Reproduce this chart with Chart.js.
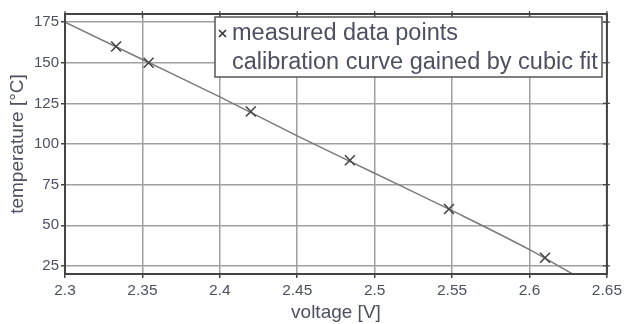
<!DOCTYPE html>
<html>
<head>
<meta charset="utf-8">
<script src="https://cdn.jsdelivr.net/npm/chart.js@4.4.1/dist/chart.umd.min.js"></script>
<style>
  html, body { margin: 0; padding: 0; background: #fff; }
  #wrap { width: 625px; height: 324px; }
</style>
</head>
<body>
<div id="wrap"><canvas id="chart" width="625" height="324"></canvas></div>
<script>
// measured points
const voltage = [2.333, 2.354, 2.42, 2.484, 2.548, 2.61];
const temperature = [160, 150, 120, 90, 60, 30];

// calibration curve
const fitVoltage = [2.3, 2.35, 2.4, 2.45, 2.5, 2.55, 2.6, 2.628];
const fitTemperature = [175, 152, 129, 105, 82, 59, 35, 20];

// ticks
const xTicks = [2.3, 2.35, 2.4, 2.45, 2.5, 2.55, 2.6, 2.65];
const yTicks = [25, 50, 75, 100, 125, 150, 175];

const labels = ["measured data points", "calibration curve gained by cubic fit"];

const FONT = "'Liberation Sans', Arial, Helvetica, sans-serif";
const textColor = "#4d5060";
const gridColor = "#a0a0a0";
const frameColor = "#444";

const toPts = (xs, ys) => xs.map((x, i) => ({ x: x, y: ys[i] }));

// frame + little MATLAB ticks on top / right, then the legend box
const framePlugin = {
  id: "frame",
  afterDatasetsDraw(chart) {
    const { ctx, chartArea: a, scales } = chart;
    ctx.save();
    ctx.strokeStyle = frameColor;
    ctx.lineWidth = 2;
    ctx.strokeRect(a.left, a.top, a.right - a.left, a.bottom - a.top);
    ctx.lineWidth = 1.2;
    ctx.beginPath();
    xTicks.forEach(v => {
      const px = scales.x.getPixelForValue(v);
      ctx.moveTo(px, a.top - 3); ctx.lineTo(px, a.top + 4);
    });
    yTicks.forEach(v => {
      const py = scales.y.getPixelForValue(v);
      ctx.moveTo(a.right - 4, py); ctx.lineTo(a.right + 3, py);
    });
    ctx.stroke();

    // legend
    const lx = a.left + 150, ly = a.top + 3, lw = 387, lh = 60;
    ctx.fillStyle = "#fff";
    ctx.fillRect(lx, ly, lw, lh);
    ctx.strokeStyle = "#555";
    ctx.lineWidth = 1.5;
    ctx.strokeRect(lx, ly, lw, lh);

    ctx.font = "23.5px " + FONT;
    ctx.textBaseline = "middle";
    ctx.textAlign = "left";
    ctx.fillStyle = textColor;
    const r1 = ly + 16, r2 = ly + 46;
    // cross marker
    ctx.strokeStyle = "#333";
    ctx.lineWidth = 1.6;
    ctx.beginPath();
    ctx.moveTo(lx + 4, r1 - 3); ctx.lineTo(lx + 11, r1 + 4);
    ctx.moveTo(lx + 11, r1 - 3); ctx.lineTo(lx + 4, r1 + 4);
    ctx.stroke();
    ctx.fillText(labels[0], lx + 17, r1 + 1);
    ctx.fillText(labels[1], lx + 17, r2);
    ctx.restore();
  }
};

new Chart(document.getElementById("chart"), {
  type: "scatter",
  data: {
    datasets: [
      {
        label: labels[0],
        data: toPts(voltage, temperature),
        pointStyle: "crossRot",
        pointRadius: 7,
        pointBorderWidth: 1.6,
        borderColor: "#444",
        backgroundColor: "#444",
        showLine: false,
        order: 0
      },
      {
        label: labels[1],
        data: toPts(fitVoltage, fitTemperature),
        showLine: true,
        pointRadius: 0,
        borderColor: "#7a7a7a",
        borderWidth: 1.5,
        cubicInterpolationMode: "monotone",
        order: 1
      }
    ]
  },
  options: {
    responsive: false,
    animation: false,
    layout: { padding: { left: 0, right: 18, top: 14, bottom: 0 } },
    plugins: { legend: { display: false }, tooltip: { enabled: false } },
    scales: {
      x: {
        type: "linear",
        min: 2.3,
        max: 2.65,
        afterBuildTicks: s => { s.ticks = xTicks.map(v => ({ value: v })); },
        afterFit: s => { s.height = 50; },
        grid: { color: gridColor, lineWidth: 1.5, tickLength: 4, tickColor: frameColor },
        border: { display: false },
        ticks: {
          color: textColor,
          font: { family: FONT, size: 15.5 },
          padding: 3,
          maxRotation: 0,
          callback: v => String(v)
        },
        title: {
          display: true,
          text: "voltage [V]",
          color: textColor,
          font: { family: FONT, size: 19 },
          padding: { top: 0, bottom: 0 }
        }
      },
      y: {
        type: "linear",
        min: 20,
        max: 180,
        afterBuildTicks: s => { s.ticks = yTicks.map(v => ({ value: v })); },
        afterFit: s => { s.width = 65; },
        grid: { color: gridColor, lineWidth: 1.5, tickLength: 4, tickColor: frameColor },
        border: { display: false },
        ticks: {
          color: textColor,
          font: { family: FONT, size: 15 },
          padding: 2
        },
        title: {
          display: true,
          text: "temperature [°C]",
          color: textColor,
          font: { family: FONT, size: 19 },
          padding: { top: 6, bottom: 0 }
        }
      }
    }
  },
  plugins: [framePlugin]
});
</script>
</body>
</html>
